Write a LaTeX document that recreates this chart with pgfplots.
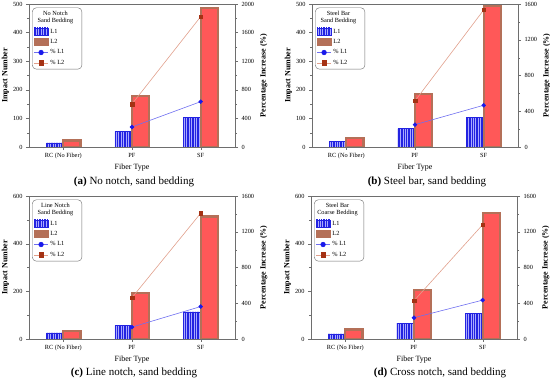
\documentclass[border=0pt]{standalone}
\usepackage{fontspec}
\setmainfont{Liberation Serif}
\usepackage{pgfplots}
\pgfplotsset{compat=1.18}
\usetikzlibrary{patterns.meta}

\definecolor{lone}{RGB}{35,35,225}
\definecolor{lonefill}{RGB}{170,170,255}
\definecolor{ltwoedge}{RGB}{180,112,88}
\definecolor{ltwofill}{RGB}{255,88,88}
\definecolor{pone}{RGB}{25,25,235}
\definecolor{ponel}{RGB}{110,110,240}
\definecolor{ptwo}{RGB}{165,50,20}
\definecolor{ptwol}{RGB}{225,160,140}
\definecolor{framec}{RGB}{110,110,110}

\pgfplotsset{
  panel/.style={scale only axis, width=206pt, height=143pt,
    xmin=-0.5, xmax=2.5, ymin=0, anchor=south west,
    axis line style={framec}, tick style={framec}, tick align=outside,
    major tick length=3pt, minor tick length=1.8pt,
    ticklabel style={font=\fontsize{6.3}{7}\selectfont},
    /pgf/number format/assume math mode=true,
    /pgf/number format/1000 sep={},
    label style={font=\fontsize{8}{9}\selectfont\bfseries}},
  leftax/.style={panel, xtick={0,1,2}, xticklabels={RC (No Fiber),PF,SF},
    xtick pos=bottom, ytick pos=left, minor y tick num=1,
    xlabel={Fiber Type}, ylabel={Impact Number},
    xlabel style={font=\fontsize{8}{9}\selectfont, yshift=2pt},
    ylabel style={yshift=-3pt},
    legend style={at={(0.015,0.975)}, anchor=north west, draw=framec,
      rounded corners=4pt, font=\fontsize{6.3}{7.2}\selectfont,
      inner sep=1.4pt, row sep=0.7pt},
    legend cell align=left},
  rightax/.style={panel, axis x line=none, axis y line*=right,
    minor y tick num=1, ylabel={Percentage Increase (\%)},
    ylabel style={yshift=1pt}},
  Lone/.style={ybar, bar width=0.25, bar shift=-0.125, draw=lone, line width=0.5pt,
    fill=lonefill, postaction={pattern color=lone, pattern={Lines[angle=90,distance=1.7pt,line width=0.85pt]}},
    legend image code/.code={\draw[sharp corners,##1] (0pt,-3pt) rectangle (14pt,4pt);}},
  Ltwo/.style={ybar, bar width=0.25, bar shift=0.125, draw=ltwoedge, line width=2.2pt,
    fill=ltwofill,
    legend image code/.code={\draw[sharp corners,##1,fill=ltwoedge,line width=0.8pt] (0pt,-3pt) rectangle (14pt,4pt);}},
  Pone/.style={color=ponel, line width=0.6pt, mark=*, mark size=1.9pt,
    mark options={fill=pone, draw=pone},
    legend image code/.code={\draw[sharp corners,mark repeat=2,mark phase=2,##1,mark size=2.3pt] plot coordinates {(0pt,0pt)(7pt,0pt)(14pt,0pt)};}},
  Ptwo/.style={color=ptwol, line width=0.6pt, mark=square*, mark size=1.8pt,
    mark options={fill=ptwo, draw=ptwo},
    legend image code/.code={\draw[sharp corners,mark repeat=2,mark phase=2,##1,mark size=2.2pt] plot coordinates {(0pt,0pt)(7pt,0pt)(14pt,0pt)};}},
}

\newcommand{\legtitle}[2]{\hspace*{-18pt}\parbox[b]{46pt}{\centering #1\\#2}}

\begin{document}
\begin{tikzpicture}
\path[use as bounding box] (0pt,0pt) rectangle (550pt,383pt);

% ---------------- (a)
\begin{axis}[leftax, at={(29pt,236pt)}, ymax=500, ytick={0,100,...,500}]
\addlegendimage{empty legend}\addlegendentry{\legtitle{No Notch}{Sand Bedding}}
\addplot[Lone] coordinates {(0,14) (1,54) (2,104)}; \addlegendentry{L1}
\addplot[Ltwo] coordinates {(0,23) (1,177) (2,486)}; \addlegendentry{L2}
\addlegendimage{Pone}\addlegendentry{\% L1}
\addlegendimage{Ptwo}\addlegendentry{\% L2}
\end{axis}
\begin{axis}[rightax, at={(29pt,236pt)}, ymax=2000, ytick={0,400,...,2000}]
\addplot[Ptwo] coordinates {(1,601) (2,1823)};
\addplot[Pone] coordinates {(1,280) (2,634)};
\end{axis}
\node[font=\fontsize{11}{13}\selectfont] at (134pt,201pt) {\textbf{(a)} No notch, sand bedding};

% ---------------- (b)
\begin{axis}[leftax, at={(312pt,236pt)}, ymax=500, ytick={0,100,...,500}]
\addlegendimage{empty legend}\addlegendentry{\legtitle{Steel Bar}{Sand Bedding}}
\addplot[Lone] coordinates {(0,19) (1,64) (2,103)}; \addlegendentry{L1}
\addplot[Ltwo] coordinates {(0,32) (1,186) (2,494)}; \addlegendentry{L2}
\addlegendimage{Pone}\addlegendentry{\% L1}
\addlegendimage{Ptwo}\addlegendentry{\% L2}
\end{axis}
\begin{axis}[rightax, at={(312pt,236pt)}, ymax=1600, ytick={0,400,...,1600}]
\addplot[Ptwo] coordinates {(1,516) (2,1533)};
\addplot[Pone] coordinates {(1,250) (2,467)};
\end{axis}
\node[font=\fontsize{11}{13}\selectfont] at (427pt,201pt) {\textbf{(b)} Steel bar, sand bedding};

% ---------------- (c)
\begin{axis}[leftax, at={(29pt,44pt)}, ymax=600, ytick={0,200,...,600}]
\addlegendimage{empty legend}\addlegendentry{\legtitle{Line Notch}{Sand Bedding}}
\addplot[Lone] coordinates {(0,26) (1,57) (2,114)}; \addlegendentry{L1}
\addplot[Ltwo] coordinates {(0,35) (1,192) (2,514)}; \addlegendentry{L2}
\addlegendimage{Pone}\addlegendentry{\% L1}
\addlegendimage{Ptwo}\addlegendentry{\% L2}
\end{axis}
\begin{axis}[rightax, at={(29pt,44pt)}, ymax=1600, ytick={0,400,...,1600}]
\addplot[Ptwo] coordinates {(1,463) (2,1407)};
\addplot[Pone] coordinates {(1,133) (2,363)};
\end{axis}
\node[font=\fontsize{11}{13}\selectfont] at (134pt,10pt) {\textbf{(c)} Line notch, sand bedding};

% ---------------- (d)
\begin{axis}[leftax, at={(311pt,44pt)}, ymax=600, ytick={0,200,...,600}]
\addlegendimage{empty legend}\addlegendentry{\legtitle{Steel Bar}{Coarse Bedding}}
\addplot[Lone] coordinates {(0,21) (1,67) (2,107)}; \addlegendentry{L1}
\addplot[Ltwo] coordinates {(0,40) (1,204) (2,527)}; \addlegendentry{L2}
\addlegendimage{Pone}\addlegendentry{\% L1}
\addlegendimage{Ptwo}\addlegendentry{\% L2}
\end{axis}
\begin{axis}[rightax, at={(311pt,44pt)}, ymax=1600, ytick={0,400,...,1600}]
\addplot[Ptwo] coordinates {(1,428) (2,1279)};
\addplot[Pone] coordinates {(1,238) (2,435)};
\end{axis}
\node[font=\fontsize{11}{13}\selectfont] at (440pt,10pt) {\textbf{(d)} Cross notch, sand bedding};
\end{tikzpicture}
\end{document}
